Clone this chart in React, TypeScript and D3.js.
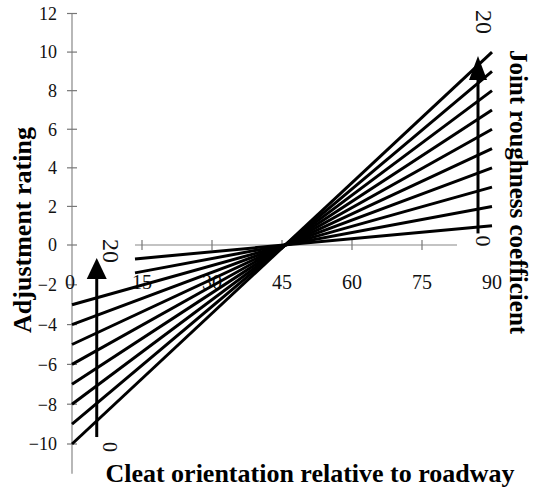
import React from "react"
import * as d3 from "d3"

// adjustment rating reached at 90 degrees for each JRC line (mirror at 0 degrees)
const lineEndRatings = [1, 2, 3, 4, 5, 6, 7, 8, 9, 10]
const lineStartAngles = [13.5, 13.5, 0, 0, 0, 0, 0, 0, 0, 0]
const xTicks = [0, 15, 30, 45, 60, 75, 90]
const yTicks = [-10, -8, -6, -4, -2, 0, 2, 4, 6, 8, 10, 12]
const jrcLabels = ["0", "20"]

const W = 533
const H = 494
const font = "'Liberation Serif', 'DejaVu Serif', serif"

const App: React.FC = () => {
	const x = d3.scaleLinear().domain([0, 90]).range([72, 492])
	const y = d3.scaleLinear().domain([-10, 0, 12]).range([444, 245, 13.5])

	const line = d3
		.line<[number, number]>()
		.x((d) => x(d[0]))
		.y((d) => y(d[1]))

	const rating = (k: number, a: number) => (k * (a - 45)) / 45

	// JRC arrows
	const rightX = x(87)
	const rightBottom = y(0.6)
	const rightTip = y(9.8)
	const leftX = x(5.3)
	const leftBottom = y(-9.65)
	const leftTip = y(-0.65)

	return (
		<svg width={W} height={H} style={{ display: "block", position: "absolute", left: 0, top: 0 }}>
			<rect width={W} height={H} fill="#fff" />
			{/* y axis */}
			<line x1={x(0)} x2={x(0)} y1={y(12)} y2={y(-11.5)} stroke="#888" strokeWidth={1.2} />
			{yTicks.map((t) => (
				<g key={t}>
					<line x1={x(0) - 5} x2={x(0) + 5} y1={y(t)} y2={y(t)} stroke="#777" strokeWidth={1.2} />
					<text
						x={57}
						y={y(t)}
						dy="0.35em"
						textAnchor="end"
						fontFamily={font}
						fontSize={18}
						fill="#111">
						{t < 0 ? "\u2212" + Math.abs(t) : t}
					</text>
				</g>
			))}
			{/* x axis */}
			<line x1={x(13.5)} x2={x(82.5)} y1={y(0)} y2={y(0)} stroke="#888" strokeWidth={1.2} />
			{xTicks.slice(1, -1).map((t) => (
				<line key={t} x1={x(t)} x2={x(t)} y1={y(0) - 5} y2={y(0) + 5} stroke="#777" strokeWidth={1.2} />
			))}
			{xTicks.map((t) => (
				<text
					key={t}
					x={x(t) - (t === 0 ? 2 : 0)}
					y={289}
					textAnchor="middle"
					fontFamily={font}
					fontSize={20}
					fill="#111">
					{t}
				</text>
			))}
			{/* JRC lines */}
			{lineEndRatings.map((k, i) => (
				<path
					key={k}
					d={line([
						[lineStartAngles[i], rating(k, lineStartAngles[i])],
						[90, rating(k, 90)],
					]) as string}
					fill="none"
					stroke="#000"
					strokeWidth={3}
				/>
			))}
			{/* right JRC arrow */}
			<line x1={rightX} x2={rightX} y1={rightBottom} y2={rightTip + 20} stroke="#000" strokeWidth={3} />
			<path
				d={`M${rightX},${rightTip} L${rightX - 9},${rightTip + 24} L${rightX + 9},${rightTip + 24} Z`}
				fill="#000"
			/>
			<text
				transform={`translate(${rightX - 2},${rightBottom + 2}) rotate(90)`}
				fontFamily={font}
				fontSize={22}
				fill="#111">
				{jrcLabels[0]}
			</text>
			<text
				transform={`translate(${rightX - 2},${10}) rotate(90)`}
				fontFamily={font}
				fontSize={24}
				fill="#111">
				{jrcLabels[1]}
			</text>
			{/* left JRC arrow */}
			<line x1={leftX} x2={leftX} y1={leftBottom} y2={leftTip + 18} stroke="#000" strokeWidth={3} />
			<path
				d={`M${leftX},${leftTip} L${leftX - 10},${leftTip + 21} L${leftX + 10},${leftTip + 21} Z`}
				fill="#000"
			/>
			<text
				transform={`translate(${leftX + 6},${leftBottom + 5}) rotate(90)`}
				fontFamily={font}
				fontSize={20}
				fill="#111">
				{jrcLabels[0]}
			</text>
			<text
				transform={`translate(${leftX + 6},${239}) rotate(90)`}
				fontFamily={font}
				fontSize={24}
				fill="#111">
				{jrcLabels[1]}
			</text>
			{/* titles */}
			<text
				x={310}
				y={482}
				textAnchor="middle"
				fontFamily={font}
				fontWeight="bold"
				fontSize={26}
				fill="#000">
				Cleat orientation relative to roadway
			</text>
			<text
				transform={`translate(31,230) rotate(-90)`}
				textAnchor="middle"
				fontFamily={font}
				fontWeight="bold"
				fontSize={26}
				fill="#000">
				Adjustment rating
			</text>
			<text
				transform={`translate(510,192) rotate(90)`}
				textAnchor="middle"
				fontFamily={font}
				fontWeight="bold"
				fontSize={25}
				fill="#000">
				Joint roughness coefficient
			</text>
		</svg>
	)
}

export default App
